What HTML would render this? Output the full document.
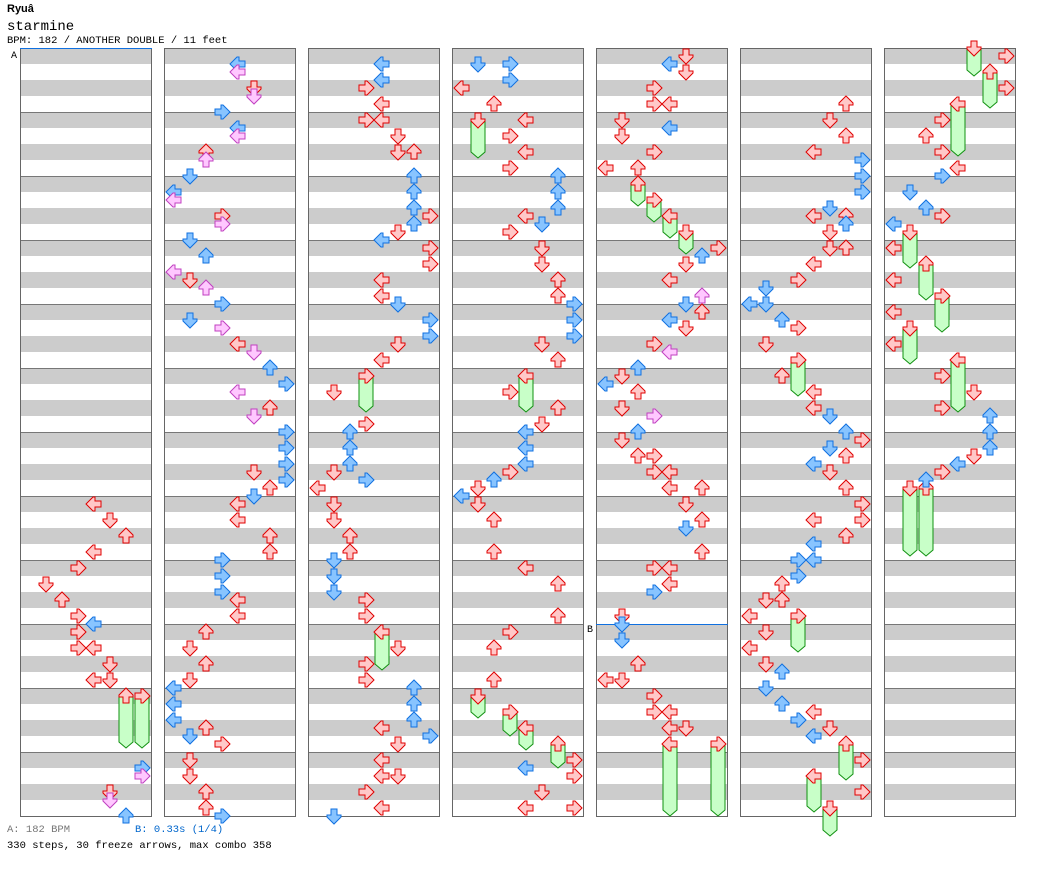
<!DOCTYPE html>
<html><head><meta charset="utf-8"><style>
body{margin:0;background:#fff;width:1040px;height:876px;overflow:hidden;font-family:"Liberation Mono",monospace;}
.t{position:absolute;white-space:pre;font-size:11px;}
</style></head><body>
<div class="t" style="left:7px;top:3px;font-family:'Liberation Sans',sans-serif;font-weight:bold;font-size:11px">Ryuâ</div>
<div class="t" style="left:7px;top:19px;font-size:14px">starmine</div>
<div class="t" style="left:7px;top:35px;font-size:10.5px">BPM: 182 / ANOTHER DOUBLE / 11 feet</div>
<div class="t" style="left:7px;top:824px;font-size:10.5px;color:#777">A: 182 BPM</div>
<div class="t" style="left:135px;top:824px;font-size:10.5px;color:#0066cc">B: 0.33s (1/4)</div>
<div class="t" style="left:7px;top:840px;font-size:10.5px">330 steps, 30 freeze arrows, max combo 358</div>
<svg id="s" width="1040" height="876" style="position:absolute;left:0;top:0"></svg>
<script>
var C=[
{n:[[504,4,'r'],[520,5,'r'],[536,6,'r'],[552,4,'r'],[568,3,'r'],[584,1,'r'],[600,2,'r'],[616,3,'r'],[624,4,'b'],[632,3,'r'],[648,3,'r'],[648,4,'r'],[664,5,'r'],[680,4,'r'],[680,5,'r'],[768,7,'b'],[776,7,'p'],[792,5,'r'],[800,5,'p'],[816,6,'b']],f:[[696,748,6],[696,748,7]]},
{n:[[64,4,'b'],[72,4,'p'],[88,5,'r'],[96,5,'p'],[112,3,'b'],[128,4,'b'],[136,4,'p'],[152,2,'r'],[160,2,'p'],[176,1,'b'],[192,0,'b'],[200,0,'p'],[216,3,'r'],[224,3,'p'],[240,1,'b'],[256,2,'b'],[272,0,'p'],[280,1,'r'],[288,2,'p'],[304,3,'b'],[320,1,'b'],[328,3,'p'],[344,4,'r'],[352,5,'p'],[368,6,'b'],[384,7,'b'],[392,4,'p'],[408,6,'r'],[416,5,'p'],[432,7,'b'],[448,7,'b'],[464,7,'b'],[472,5,'r'],[480,7,'b'],[488,6,'r'],[496,5,'b'],[504,4,'r'],[520,4,'r'],[536,6,'r'],[552,6,'r'],[560,3,'b'],[576,3,'b'],[592,3,'b'],[600,4,'r'],[616,4,'r'],[632,2,'r'],[648,1,'r'],[664,2,'r'],[680,1,'r'],[688,0,'b'],[704,0,'b'],[720,0,'b'],[728,2,'r'],[736,1,'b'],[744,3,'r'],[760,1,'r'],[776,1,'r'],[792,2,'r'],[808,2,'r'],[816,3,'b']],f:[]},
{n:[[64,4,'b'],[80,4,'b'],[88,3,'r'],[104,4,'r'],[120,3,'r'],[120,4,'r'],[136,5,'r'],[152,5,'r'],[152,6,'r'],[176,6,'b'],[192,6,'b'],[208,6,'b'],[216,7,'r'],[224,6,'b'],[232,5,'r'],[240,4,'b'],[248,7,'r'],[264,7,'r'],[280,4,'r'],[296,4,'r'],[304,5,'b'],[320,7,'b'],[336,7,'b'],[344,5,'r'],[360,4,'r'],[392,1,'r'],[424,3,'r'],[432,2,'b'],[448,2,'b'],[464,2,'b'],[472,1,'r'],[480,3,'b'],[488,0,'r'],[504,1,'r'],[520,1,'r'],[536,2,'r'],[552,2,'r'],[560,1,'b'],[576,1,'b'],[592,1,'b'],[600,3,'r'],[616,3,'r'],[648,5,'r'],[664,3,'r'],[680,3,'r'],[688,6,'b'],[704,6,'b'],[720,6,'b'],[728,4,'r'],[736,7,'b'],[744,5,'r'],[760,4,'r'],[776,4,'r'],[776,5,'r'],[792,3,'r'],[808,4,'r'],[816,1,'b']],f:[[376,412,3],[632,670,4]]},
{n:[[64,1,'b'],[64,3,'b'],[80,3,'b'],[88,0,'r'],[104,2,'r'],[120,4,'r'],[136,3,'r'],[152,4,'r'],[168,3,'r'],[176,6,'b'],[192,6,'b'],[208,6,'b'],[216,4,'r'],[224,5,'b'],[232,3,'r'],[248,5,'r'],[264,5,'r'],[280,6,'r'],[296,6,'r'],[304,7,'b'],[320,7,'b'],[336,7,'b'],[344,5,'r'],[360,6,'r'],[392,3,'r'],[408,6,'r'],[424,5,'r'],[432,4,'b'],[448,4,'b'],[464,4,'b'],[472,3,'r'],[480,2,'b'],[488,1,'r'],[496,0,'b'],[504,1,'r'],[520,2,'r'],[552,2,'r'],[568,4,'r'],[584,6,'r'],[616,6,'r'],[632,3,'r'],[648,2,'r'],[680,2,'r'],[760,7,'r'],[768,4,'b'],[776,7,'r'],[792,5,'r'],[808,4,'r'],[808,7,'r']],f:[[120,158,1],[376,412,4],[696,718,1],[712,736,3],[728,750,4],[744,768,6]]},
{n:[[56,5,'r'],[64,4,'b'],[72,5,'r'],[88,3,'r'],[104,3,'r'],[104,4,'r'],[120,1,'r'],[128,4,'b'],[136,1,'r'],[152,3,'r'],[168,0,'r'],[168,2,'r'],[248,7,'r'],[256,6,'b'],[264,5,'r'],[280,4,'r'],[296,6,'p'],[304,5,'b'],[312,6,'r'],[320,4,'b'],[328,5,'r'],[344,3,'r'],[352,4,'p'],[368,2,'b'],[376,1,'r'],[384,0,'b'],[392,2,'r'],[408,1,'r'],[416,3,'p'],[432,2,'b'],[440,1,'r'],[456,2,'r'],[456,3,'r'],[472,3,'r'],[472,4,'r'],[488,4,'r'],[488,6,'r'],[504,5,'r'],[520,6,'r'],[528,5,'b'],[552,6,'r'],[568,3,'r'],[568,4,'r'],[584,4,'r'],[592,3,'b'],[616,1,'r'],[624,1,'b'],[640,1,'b'],[664,2,'r'],[680,0,'r'],[680,1,'r'],[696,3,'r'],[712,3,'r'],[712,4,'r'],[728,4,'r'],[728,5,'r']],f:[[184,206,2],[200,222,3],[216,238,4],[232,254,5],[744,816,4],[744,816,7]]},
{n:[[104,6,'r'],[120,5,'r'],[136,6,'r'],[152,4,'r'],[160,7,'b'],[176,7,'b'],[192,7,'b'],[208,5,'b'],[216,4,'r'],[216,6,'r'],[224,6,'b'],[232,5,'r'],[248,5,'r'],[248,6,'r'],[264,4,'r'],[280,3,'r'],[288,1,'b'],[304,0,'b'],[304,1,'b'],[320,2,'b'],[328,3,'r'],[344,1,'r'],[376,2,'r'],[392,4,'r'],[408,4,'r'],[416,5,'b'],[432,6,'b'],[440,7,'r'],[448,5,'b'],[456,6,'r'],[464,4,'b'],[472,5,'r'],[488,6,'r'],[504,7,'r'],[520,4,'r'],[520,7,'r'],[536,6,'r'],[544,4,'b'],[560,3,'b'],[560,4,'b'],[576,3,'b'],[584,2,'r'],[600,1,'r'],[600,2,'r'],[616,0,'r'],[632,1,'r'],[648,0,'r'],[664,1,'r'],[672,2,'b'],[688,1,'b'],[704,2,'b'],[712,4,'r'],[720,3,'b'],[728,5,'r'],[736,4,'b'],[760,7,'r'],[792,7,'r']],f:[[360,396,3],[616,652,3],[744,780,6],[776,812,4],[808,836,5]]},
{n:[[56,7,'r'],[88,7,'r'],[120,3,'r'],[136,2,'r'],[152,3,'r'],[168,4,'r'],[176,3,'b'],[192,1,'b'],[208,2,'b'],[216,3,'r'],[224,0,'b'],[248,0,'r'],[280,0,'r'],[312,0,'r'],[344,0,'r'],[376,3,'r'],[392,5,'r'],[408,3,'r'],[416,6,'b'],[432,6,'b'],[448,6,'b'],[456,5,'r'],[464,4,'b'],[472,3,'r'],[480,2,'b']],f:[[48,76,5],[72,108,6],[104,156,4],[232,268,1],[264,300,2],[296,332,3],[328,364,1],[360,412,4],[488,556,1],[488,556,2]]}
];
var S={r:['#ffc8c8','#e00000'],b:['#88c4ff','#1070e0'],p:['#ffc8ff','#c040c0']};
var rot=[90,0,180,270];
var h='';
var DOWN='M-3,-7 L3,-7 L3,-1 L7,-1 L7,1 L0,8 L-7,1 L-7,-1 L-3,-1 Z';
function arrow(x,y,l,c){var s=S[c];return '<path d="'+DOWN+'" transform="translate('+x+','+y+') rotate('+rot[l%4]+')" fill="'+s[0]+'" stroke="'+s[1]+'" stroke-width="1"/>';}
for(var i=0;i<7;i++){var x0=20+144*i;
 for(var m=0;m<12;m++){var y=48+64*m;h+='<rect x="'+x0+'" y="'+y+'" width="132" height="16" fill="#cccccc"/><rect x="'+x0+'" y="'+(y+32)+'" width="132" height="16" fill="#cccccc"/>';if(m>0)h+='<line x1="'+x0+'" x2="'+(x0+132)+'" y1="'+(y+.5)+'" y2="'+(y+.5)+'" stroke="#777"/>';}
 h+='<rect x="'+(x0+.5)+'" y="48.5" width="131" height="768" fill="none" stroke="#666"/>';
}
h+='<line x1="20" x2="152" y1="48.5" y2="48.5" stroke="#1070e0"/><text x="11" y="58" font-family="Liberation Mono" font-size="10">A</text>';
h+='<line x1="596" x2="728" y1="624.5" y2="624.5" stroke="#1070e0"/><text x="587" y="632" font-family="Liberation Mono" font-size="10">B</text>';
for(var i=0;i<7;i++){var x0=20+144*i,c=C[i];
 c.f.forEach(function(f){var x=x0+10+16*f[2];h+='<path d="M'+(x-7)+','+f[0]+' L'+(x+7)+','+f[0]+' L'+(x+7)+','+(f[1]-6)+' L'+x+','+f[1]+' L'+(x-7)+','+(f[1]-6)+' Z" fill="#c8ffc8" stroke="#109010"/>';h+=arrow(x,f[0],f[2],'r');});
 c.n.forEach(function(n){h+=arrow(x0+10+16*n[1],n[0],n[1],n[2]);});
}
document.getElementById('s').innerHTML=h;
</script>
</body></html>
